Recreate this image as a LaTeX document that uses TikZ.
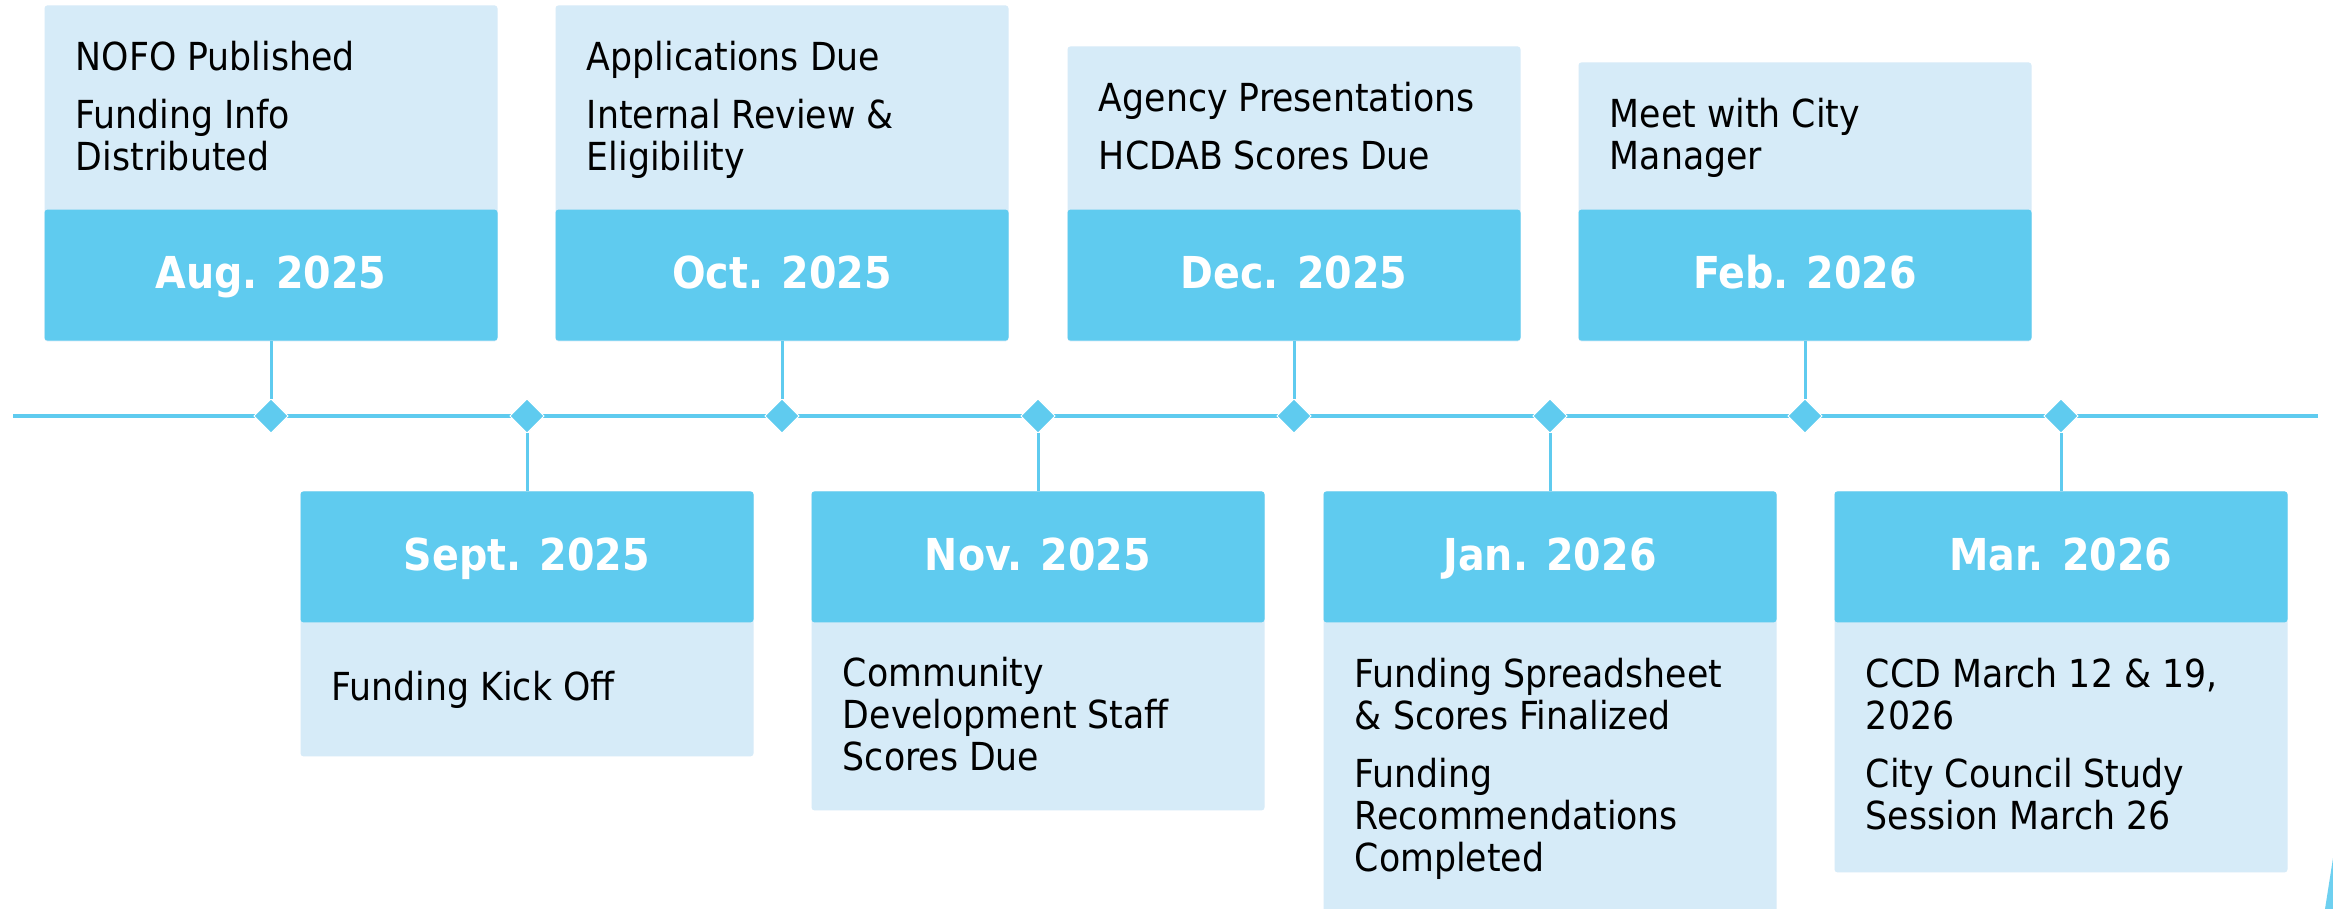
\documentclass[tikz,border=0pt]{standalone}
\usepackage{fontspec}
\setmainfont{DejaVu Sans Condensed}
\usetikzlibrary{shapes.geometric}
\definecolor{dark}{RGB}{95,203,239}
\definecolor{light}{RGB}{214,235,248}
\definecolor{edge}{RGB}{110,208,240}
\newcommand{\fl}{\rule{0pt}{15pt}}
\begin{document}
\begin{tikzpicture}[x=0.5pt,y=-0.5pt,
  panel/.style={rectangle,fill=light,draw=none,rounded corners=1.5pt,minimum width=226.5pt,inner sep=0pt},
  band/.style={rectangle,fill=dark,draw=none,rounded corners=1.5pt,minimum width=226.5pt,minimum height=65.5pt,inner sep=0pt},
  date/.style={font=\fontsize{22}{26}\selectfont\bfseries,text=white,anchor=base,inner sep=0pt},
  body/.style={font=\fontsize{19.3}{21}\selectfont,align=left,anchor=north west,inner sep=0pt,text=black},
  tick/.style={draw=dark,line width=1.5pt},
  axis/.style={draw=dark,line width=1.8pt},
  gem/.style={diamond,fill=dark,draw=white,line width=0.5pt,minimum width=17pt,minimum height=17pt,inner sep=0pt,outer sep=0pt}
]
\useasboundingbox (0,0) rectangle (2333,909);
\fill[white] (0,0) rectangle (2333,909);

% timeline
\coordinate (tl) at (13,416);
\coordinate (tr) at (2318,416);
\draw[axis] (tl) -- (tr);

% ---------- top boxes ----------
\node[panel,anchor=north,minimum height=168pt] (augP) at (271,5) {};
\node[band,anchor=south] (augB) at (271,341) {};
\node[date] (augL) at (271,288) {Aug. 2025};
\node[body] (augT) at (75.5,40) {\fl NOFO Published\\[8pt]Funding Info\\Distributed};

\node[panel,anchor=north,minimum height=168pt] (octP) at (782,5) {};
\node[band,anchor=south] (octB) at (782,341) {};
\node[date] (octL) at (782,288) {Oct. 2025};
\node[body] (octT) at (586.5,40) {\fl Applications Due\\[8pt]Internal Review \&\\Eligibility};

\node[panel,anchor=north,minimum height=147.5pt] (decP) at (1294,46) {};
\node[band,anchor=south] (decB) at (1294,341) {};
\node[date] (decL) at (1294,288) {Dec. 2025};
\node[body] (decT) at (1098.5,81) {\fl Agency Presentations\\[8pt]HCDAB Scores Due};

\node[panel,anchor=north,minimum height=139.5pt] (febP) at (1805,62) {};
\node[band,anchor=south] (febB) at (1805,341) {};
\node[date] (febL) at (1805,288) {Feb. 2026};
\node[body] (febT) at (1609.5,97) {\fl Meet with City\\Manager};

% ---------- bottom boxes ----------
\node[panel,anchor=north,minimum height=132.5pt] (sepP) at (527,491) {};
\node[band,anchor=north] (sepB) at (527,491) {};
\node[date] (sepL) at (527,570) {Sept. 2025};
\node[body] (sepT) at (331.5,670) {\fl Funding Kick Off};

\node[panel,anchor=north,minimum height=159.5pt] (novP) at (1038,491) {};
\node[band,anchor=north] (novB) at (1038,491) {};
\node[date] (novL) at (1038,570) {Nov. 2025};
\node[body] (novT) at (842.5,656) {\fl Community\\Development Staff\\Scores Due};

\node[panel,anchor=north,minimum height=219.5pt] (janP) at (1550,491) {};
\node[band,anchor=north] (janB) at (1550,491) {};
\node[date] (janL) at (1550,570) {Jan. 2026};
\node[body] (janT) at (1354.5,657) {\fl Funding Spreadsheet\\\& Scores Finalized\\[8pt]Funding\\Recommendations\\Completed};

\node[panel,anchor=north,minimum height=190.5pt] (marP) at (2061,491) {};
\node[band,anchor=north] (marB) at (2061,491) {};
\node[date] (marL) at (2061,570) {Mar. 2026};
\node[body] (marT) at (1865.5,657) {\fl CCD March 12 \& 19,\\2026\\[8pt]City Council Study\\Session March 26};

% ---------- markers ----------
\node[gem] (d1) at (271,416) {};
\node[gem] (d2) at (527,416) {};
\node[gem] (d3) at (782,416) {};
\node[gem] (d4) at (1038,416) {};
\node[gem] (d5) at (1294,416) {};
\node[gem] (d6) at (1550,416) {};
\node[gem] (d7) at (1805,416) {};
\node[gem] (d8) at (2061,416) {};

% ---------- connectors ----------
\draw[tick] (augB.south) -- (d1.north);
\draw[tick] (d2.south) -- (sepB.north);
\draw[tick] (octB.south) -- (d3.north);
\draw[tick] (d4.south) -- (novB.north);
\draw[tick] (decB.south) -- (d5.north);
\draw[tick] (d6.south) -- (janB.north);
\draw[tick] (febB.south) -- (d7.north);
\draw[tick] (d8.south) -- (marB.north);

% sliver at lower right edge
\fill[edge] (2333,858) -- (2333,909) -- (2325,909) -- cycle;
\end{tikzpicture}
\end{document}
